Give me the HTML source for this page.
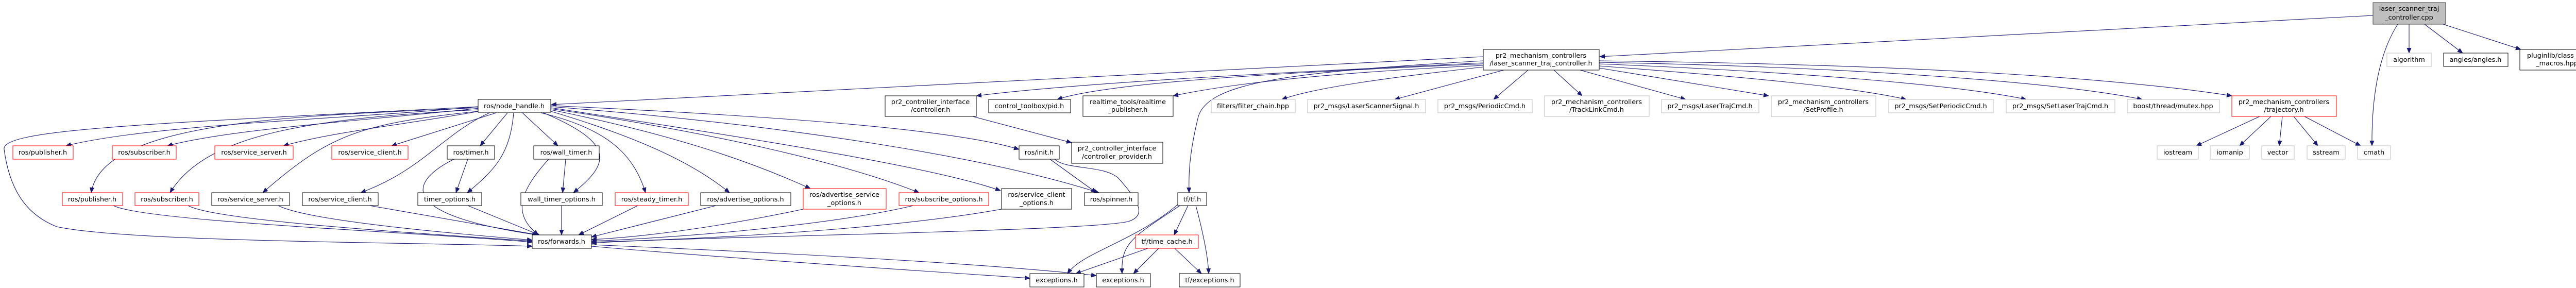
<!DOCTYPE html>
<html><head><meta charset="utf-8"><style>
html,body{margin:0;padding:0;background:#fff;}
svg{display:block;}
text{font-family:"DejaVu Sans","Liberation Sans",sans-serif;font-size:12.8px;fill:#000;text-anchor:middle;}
.e{fill:none;stroke:#191970;stroke-width:1.1;}
.b{fill:#fff;stroke:#000;stroke-width:1;}
.r{fill:#fff;stroke:#ff0000;stroke-width:1;}
.g{fill:#fff;stroke:#bfbfbf;stroke-width:1;}
</style></head><body>
<svg width="5039" height="559" viewBox="0 0 5039 559" xmlns="http://www.w3.org/2000/svg">
<defs><marker id="a" markerWidth="11" markerHeight="9" refX="10" refY="4.5" orient="auto" markerUnits="userSpaceOnUse"><path d="M0,0 L11,4.5 L0,9 z" fill="#191970"/></marker></defs>
<g marker-end="url(#a)">
<path class="e" d="M4606,30 L3105,110"/>
<path class="e" d="M4676,47 L4676,103"/>
<path class="e" d="M4706,47 L4780,103"/>
<path class="e" d="M4742,47 L4893,96"/>
<path class="e" d="M4654,47 C4620,100 4603,180 4604,283"/>
<path class="e" d="M4386,226 L4263,283"/>
<path class="e" d="M4408,226 L4347,283"/>
<path class="e" d="M4430,226 L4424,283"/>
<path class="e" d="M4452,226 L4499,283"/>
<path class="e" d="M4473,226 L4582,283"/>
<path class="e" d="M2879,110 L1070,203"/>
<path class="e" d="M2879,122 C2500,140 2100,160 1895,186"/>
<path class="e" d="M2879,124 C2500,140 2150,160 2052,193"/>
<path class="e" d="M2879,127 C2600,140 2400,160 2277,186"/>
<path class="e" d="M2879,130 C2700,150 2550,170 2488,193"/>
<path class="e" d="M2879,118 C2500,140 2340,160 2325,230 C2308,300 2307,340 2308,374"/>
<path class="e" d="M2919,136 L2707,193"/>
<path class="e" d="M2966,136 L2899,193"/>
<path class="e" d="M3016,136 L3071,186"/>
<path class="e" d="M3067,136 L3272,193"/>
<path class="e" d="M3104,132 L3433,186"/>
<path class="e" d="M3104,128 C3400,150 3600,170 3700,193"/>
<path class="e" d="M3104,124 C3500,140 3800,165 3933,193"/>
<path class="e" d="M3104,121 C3600,130 4000,160 4158,193"/>
<path class="e" d="M3104,118 C3700,125 4100,150 4332,186"/>
<path class="e" d="M1888,226 L2080,277"/>
<path class="e" d="M928,207 C700,230 300,240 128,283"/>
<path class="e" d="M930,210 C700,235 450,250 325,283"/>
<path class="e" d="M935,215 C800,240 650,255 550,283"/>
<path class="e" d="M963,219 L760,283"/>
<path class="e" d="M985,219 L932,283"/>
<path class="e" d="M1014,219 L1083,283"/>
<path class="e" d="M928,209 C600,225 200,230 177,374"/>
<path class="e" d="M928,213 C600,230 400,260 330,374"/>
<path class="e" d="M928,216 C700,240 640,260 510,374"/>
<path class="e" d="M950,219 C860,260 820,330 700,374"/>
<path class="e" d="M997,219 C990,300 960,330 907,374"/>
<path class="e" d="M1055,219 C1200,280 1180,320 1113,374"/>
<path class="e" d="M1050,219 C1180,250 1230,300 1253,374"/>
<path class="e" d="M1069,216 C1250,270 1350,320 1416,374"/>
<path class="e" d="M1069,213 C1300,260 1450,310 1573,366"/>
<path class="e" d="M1069,211 C1400,260 1650,320 1784,374"/>
<path class="e" d="M1069,209 C1400,260 1800,320 1942,370"/>
<path class="e" d="M1069,207 C1500,240 1900,300 2133,374"/>
<path class="e" d="M1069,205 C1500,225 1850,250 1978,290"/>
<path class="e" d="M928,207 C300,240 0,250 8,290 C20,380 60,420 110,440 C250,470 800,470 1033,478"/>
<path class="e" d="M881,309 C780,360 790,420 1043,456"/>
<path class="e" d="M908,309 L885,374"/>
<path class="e" d="M1098,309 L1092,374"/>
<path class="e" d="M1065,309 C1000,380 1000,420 1045,456"/>
<path class="e" d="M220,399 C280,430 800,450 1033,470"/>
<path class="e" d="M365,399 C420,430 850,455 1033,468"/>
<path class="e" d="M540,399 C600,430 900,455 1033,466"/>
<path class="e" d="M717,399 L1045,456"/>
<path class="e" d="M908,399 L1047,456"/>
<path class="e" d="M1090,399 L1090,456"/>
<path class="e" d="M1238,399 L1123,456"/>
<path class="e" d="M1390,399 L1148,460"/>
<path class="e" d="M1559,406 C1400,440 1250,460 1148,465"/>
<path class="e" d="M1773,399 C1600,440 1300,462 1148,468"/>
<path class="e" d="M1944,406 C1700,450 1300,466 1148,470"/>
<path class="e" d="M2038,309 L2128,374"/>
<path class="e" d="M2047,309 C2070,330 2140,320 2170,345 C2220,400 2220,420 2190,430 C2100,450 1300,460 1148,472"/>
<path class="e" d="M1148,478 C1400,500 1700,520 1999,540"/>
<path class="e" d="M1148,475 C1500,490 1900,510 2128,535"/>
<path class="e" d="M2286,397 C2200,470 2100,490 2072,531"/>
<path class="e" d="M2290,399 C2200,460 2175,470 2178,531"/>
<path class="e" d="M2306,399 L2279,456"/>
<path class="e" d="M2321,399 C2335,450 2345,500 2346,531"/>
<path class="e" d="M2228,482 L2088,531"/>
<path class="e" d="M2249,482 L2200,531"/>
<path class="e" d="M2280,482 L2332,531"/>
</g>
<rect x="4606" y="5" width="141" height="42" fill="#bfbfbf" stroke="#404040"/><text x="4676" y="21">laser_scanner_traj</text><text x="4676" y="38">_controller.cpp</text>
<rect class="b" x="2879" y="96" width="225" height="40"/><text x="2991" y="112">pr2_mechanism_controllers</text><text x="2991" y="127">/laser_scanner_traj_controller.h</text>
<rect class="g" x="4633" y="103" width="86" height="26"/><text x="4676" y="120">algorithm</text>
<rect class="b" x="4743" y="103" width="125" height="26"/><text x="4805" y="120">angles/angles.h</text>
<rect class="b" x="4891" y="96" width="144" height="40"/><text x="4963" y="112">pluginlib/class_list</text><text x="4963" y="127">_macros.hpp</text>
<rect class="b" x="928" y="193" width="141" height="25"/><text x="998" y="210">ros/node_handle.h</text>
<rect class="b" x="1718" y="186" width="177" height="40"/><text x="1806" y="202">pr2_controller_interface</text><text x="1806" y="217">/controller.h</text>
<rect class="b" x="1919" y="193" width="159" height="26"/><text x="1998" y="210">control_toolbox/pid.h</text>
<rect class="b" x="2102" y="186" width="175" height="40"/><text x="2189" y="202">realtime_tools/realtime</text><text x="2189" y="217">_publisher.h</text>
<rect class="g" x="2351" y="193" width="163" height="26"/><text x="2432" y="210">filters/filter_chain.hpp</text>
<rect class="g" x="2538" y="193" width="229" height="26"/><text x="2652" y="210">pr2_msgs/LaserScannerSignal.h</text>
<rect class="g" x="2791" y="193" width="183" height="26"/><text x="2882" y="210">pr2_msgs/PeriodicCmd.h</text>
<rect class="g" x="2998" y="186" width="203" height="40"/><text x="3099" y="202">pr2_mechanism_controllers</text><text x="3099" y="217">/TrackLinkCmd.h</text>
<rect class="g" x="3225" y="193" width="189" height="26"/><text x="3319" y="210">pr2_msgs/LaserTrajCmd.h</text>
<rect class="g" x="3438" y="186" width="203" height="40"/><text x="3539" y="202">pr2_mechanism_controllers</text><text x="3539" y="217">/SetProfile.h</text>
<rect class="g" x="3666" y="193" width="203" height="26"/><text x="3767" y="210">pr2_msgs/SetPeriodicCmd.h</text>
<rect class="g" x="3894" y="193" width="211" height="26"/><text x="3999" y="210">pr2_msgs/SetLaserTrajCmd.h</text>
<rect class="g" x="4129" y="193" width="179" height="26"/><text x="4218" y="210">boost/thread/mutex.hpp</text>
<rect class="r" x="4332" y="186" width="203" height="40"/><text x="4433" y="202">pr2_mechanism_controllers</text><text x="4433" y="217">/trajectory.h</text>
<rect class="r" x="25" y="283" width="117" height="26"/><text x="83" y="300">ros/publisher.h</text>
<rect class="r" x="218" y="283" width="124" height="26"/><text x="280" y="300">ros/subscriber.h</text>
<rect class="r" x="417" y="283" width="152" height="26"/><text x="493" y="300">ros/service_server.h</text>
<rect class="r" x="644" y="283" width="148" height="26"/><text x="718" y="300">ros/service_client.h</text>
<rect class="b" x="868" y="283" width="92" height="26"/><text x="914" y="300">ros/timer.h</text>
<rect class="b" x="1036" y="283" width="127" height="26"/><text x="1099" y="300">ros/wall_timer.h</text>
<rect class="b" x="1978" y="283" width="78" height="26"/><text x="2017" y="300">ros/init.h</text>
<rect class="b" x="2080" y="276" width="177" height="41"/><text x="2168" y="292">pr2_controller_interface</text><text x="2168" y="308">/controller_provider.h</text>
<rect class="g" x="4187" y="283" width="80" height="26"/><text x="4227" y="300">iostream</text>
<rect class="g" x="4290" y="283" width="76" height="26"/><text x="4328" y="300">iomanip</text>
<rect class="g" x="4390" y="283" width="63" height="26"/><text x="4421" y="300">vector</text>
<rect class="g" x="4478" y="283" width="74" height="26"/><text x="4515" y="300">sstream</text>
<rect class="g" x="4576" y="283" width="64" height="26"/><text x="4608" y="300">cmath</text>
<rect class="r" x="121" y="374" width="117" height="25"/><text x="179" y="391">ros/publisher.h</text>
<rect class="r" x="262" y="374" width="124" height="25"/><text x="324" y="391">ros/subscriber.h</text>
<rect class="b" x="411" y="374" width="151" height="25"/><text x="486" y="391">ros/service_server.h</text>
<rect class="b" x="587" y="374" width="147" height="25"/><text x="660" y="391">ros/service_client.h</text>
<rect class="b" x="811" y="374" width="124" height="25"/><text x="873" y="391">timer_options.h</text>
<rect class="b" x="1011" y="374" width="158" height="25"/><text x="1090" y="391">wall_timer_options.h</text>
<rect class="r" x="1194" y="374" width="142" height="25"/><text x="1265" y="391">ros/steady_timer.h</text>
<rect class="b" x="1360" y="374" width="175" height="25"/><text x="1447" y="391">ros/advertise_options.h</text>
<rect class="r" x="1559" y="366" width="161" height="40"/><text x="1639" y="382">ros/advertise_service</text><text x="1639" y="398">_options.h</text>
<rect class="r" x="1745" y="374" width="174" height="25"/><text x="1832" y="391">ros/subscribe_options.h</text>
<rect class="b" x="1944" y="366" width="136" height="40"/><text x="2012" y="382">ros/service_client</text><text x="2012" y="398">_options.h</text>
<rect class="b" x="2105" y="374" width="104" height="25"/><text x="2157" y="391">ros/spinner.h</text>
<rect class="b" x="2286" y="374" width="56" height="25"/><text x="2314" y="391">tf/tf.h</text>
<rect class="b" x="1033" y="456" width="115" height="26"/><text x="1090" y="473">ros/forwards.h</text>
<rect class="r" x="2204" y="456" width="122" height="26"/><text x="2265" y="473">tf/time_cache.h</text>
<rect class="b" x="1999" y="531" width="105" height="26"/><text x="2051" y="548">exceptions.h</text>
<rect class="b" x="2128" y="531" width="105" height="26"/><text x="2180" y="548">exceptions.h</text>
<rect class="b" x="2289" y="531" width="118" height="26"/><text x="2348" y="548">tf/exceptions.h</text>
</svg>
</body></html>
